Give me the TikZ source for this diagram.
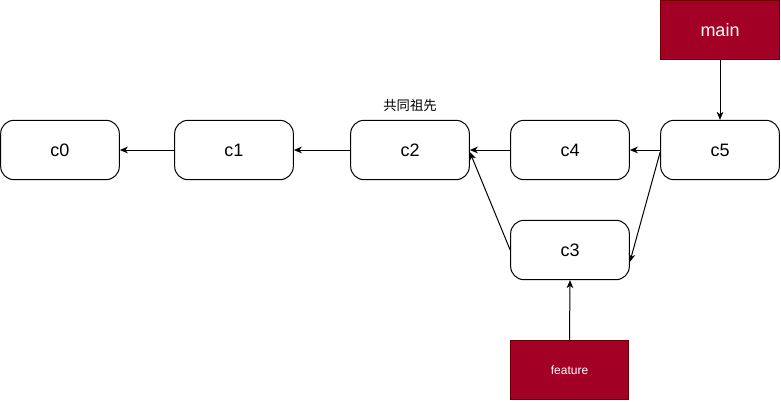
\documentclass[tikz,border=0pt]{standalone}
\usepackage{fontspec}
\setmainfont{Liberation Sans}
\newfontfamily\cjk{Noto Sans CJK SC}
\usetikzlibrary{arrows.meta}
\definecolor{brand}{HTML}{A20025}
\definecolor{brandline}{HTML}{6F0000}
\begin{document}
\begin{tikzpicture}[x=0.75pt,y=-0.75pt,
  commit/.style={draw=black,line width=0.75pt,rounded corners=10pt,minimum width=89pt,minimum height=44.5pt,inner sep=0pt,font=\fontsize{13.5}{16}\selectfont},
  branch/.style={draw=brandline,fill=brand,line width=0.75pt,minimum width=89pt,minimum height=44.5pt,inner sep=0pt,text=white},
  conn/.style={draw=black,line width=0.75pt,-{Stealth[length=6pt,width=5pt,inset=1.8pt]}}]
\useasboundingbox (0,0) rectangle (781,401);
\node[commit] (c0) at (60,150) {c0};
\node[commit] (c1) at (234,150) {c1};
\node[commit] (c2) at (410,150) {c2};
\node[commit] (c4) at (570,150) {c4};
\node[commit] (c5) at (720,150) {c5};
\node[commit] (c3) at (570,250) {c3};
\node[branch,font=\fontsize{13.5}{16}\selectfont] (main) at (720,30) {main};
\node[branch,font=\fontsize{9}{11}\selectfont] (feature) at (569.5,370) {feature};
\node[font=\cjk\fontsize{10}{12}\selectfont] (lbl) at (410,105) {共同祖先};
\draw[conn] (c1.west) -- (c0.east);
\draw[conn] (c2.west) -- (c1.east);
\draw[conn] (c4.west) -- (c2.east);
\draw[conn] (c5.west) -- (c4.east);
\draw[conn] (c3.west) -- ([yshift=-1.5pt]c2.east);
\draw[conn] ([yshift=-1.5pt]c5.west) -- ([yshift=-9pt]c3.east);
\draw[conn] (main.south) -- (c5.north);
\draw[conn] (feature.north) -- (c3.south);
\end{tikzpicture}
\end{document}
